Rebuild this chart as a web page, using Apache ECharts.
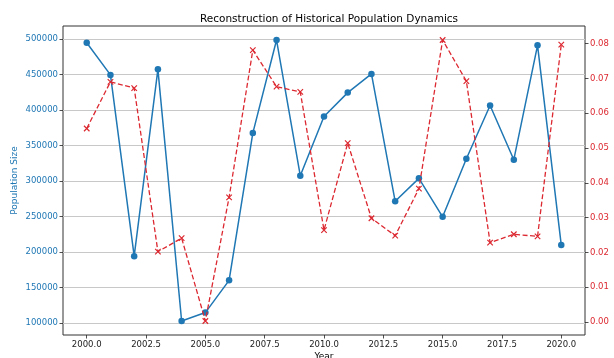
<!DOCTYPE html>
<html>
<head>
<meta charset="utf-8">
<script src="https://cdn.jsdelivr.net/npm/echarts@6/dist/echarts.min.js"></script>
<style>
  html, body { margin: 0; padding: 0; background: #fff; }
  #chart { width: 614px; height: 358px; }
</style>
</head>
<body>
<div id="chart"></div>
<script>
// Yearly population estimates and growth rates
const years = [2000, 2001, 2002, 2003, 2004, 2005, 2006, 2007, 2008, 2009, 2010,
               2011, 2012, 2013, 2014, 2015, 2016, 2017, 2018, 2019, 2020];
const population = [494800, 449500, 194450, 457400, 103200, 115000, 160350, 367650, 498600, 307700, 390950,
                    424600, 450900, 271650, 303930, 249750, 331600, 406400, 330200, 491150, 210000];
const growthRate = [0.0556, 0.0690, 0.0672, 0.0202, 0.0241, 0.0003, 0.0358, 0.0781, 0.0676, 0.0661, 0.0264,
                    0.0514, 0.0298, 0.0248, 0.0383, 0.0810, 0.0692, 0.0228, 0.0252, 0.0246, 0.0797];

// Tick positions for each axis
const yearTicks = [2000, 2002.5, 2005, 2007.5, 2010, 2012.5, 2015, 2017.5, 2020];
const populationTicks = [100000, 150000, 200000, 250000, 300000, 350000, 400000, 450000, 500000];
const rateTicks = [0, 0.01, 0.02, 0.03, 0.04, 0.05, 0.06, 0.07, 0.08];

const BLUE = '#1f77b4';
const RED = '#dc2830';
const FONT = 'DejaVu Sans';

// 5% padding around the data range on each axis
function padded(values) {
  const lo = Math.min(...values), hi = Math.max(...values);
  const pad = (hi - lo) * 0.05;
  return [lo - pad, hi + pad];
}
const xRange = padded(years);
const popRange = padded(population);
const rateRange = padded(growthRate);

const tickStyle = { show: true, inside: false, length: 3.5, lineStyle: { color: '#222', width: 0.8 } };

const chart = echarts.init(document.getElementById('chart'), null, { renderer: 'canvas' });
chart.setOption({
  animation: false,
  backgroundColor: '#fff',
  textStyle: { fontFamily: FONT },
  title: {
    text: 'Reconstruction of Historical Population Dynamics',
    left: 324, top: 9, textAlign: 'center',
    textStyle: { fontFamily: FONT, fontSize: 10.5, fontWeight: 'normal', color: '#000' }
  },
  grid: {
    left: 63, right: 29, top: 26, bottom: 23,
    outerBoundsMode: 'none', containLabel: false,
    show: true, borderColor: '#333', borderWidth: 1, backgroundColor: 'transparent'
  },
  xAxis: {
    type: 'value', min: xRange[0], max: xRange[1], position: 'bottom',
    name: 'Year', nameLocation: 'middle', nameGap: 17, nameMoveOverlap: false,
    nameTextStyle: { fontFamily: FONT, fontSize: 9, color: '#000' },
    axisLine: { show: false, onZero: false },
    axisTick: Object.assign({ customValues: yearTicks }, tickStyle),
    axisLabel: {
      customValues: yearTicks, margin: 5, fontFamily: FONT, fontSize: 8.5, color: '#222',
      formatter: v => v.toFixed(1)
    },
    splitLine: { show: false }
  },
  yAxis: [
    {
      type: 'value', position: 'left', min: popRange[0], max: popRange[1],
      name: 'Population Size', nameLocation: 'middle', nameRotate: 90, nameGap: 44, nameMoveOverlap: false,
      nameTextStyle: { fontFamily: FONT, fontSize: 9, color: BLUE },
      axisLine: { show: false, onZero: false },
      axisTick: Object.assign({ customValues: populationTicks }, tickStyle),
      axisLabel: {
        customValues: populationTicks, margin: 5, fontFamily: FONT, fontSize: 8.5, color: BLUE,
        formatter: v => String(Math.round(v))
      },
      splitLine: { show: true, lineStyle: { color: '#c8c8c8', width: 1 } }
    },
    {
      type: 'value', position: 'right', min: rateRange[0], max: rateRange[1],
      name: 'Growth Rate', nameLocation: 'middle', nameRotate: 90, nameGap: 30, nameMoveOverlap: false,
      nameTextStyle: { fontFamily: FONT, fontSize: 9, color: RED },
      axisLine: { show: false, onZero: false },
      axisTick: Object.assign({ customValues: rateTicks }, tickStyle),
      axisLabel: {
        customValues: rateTicks, margin: 5, fontFamily: FONT, fontSize: 8.5, color: RED,
        formatter: v => v.toFixed(2)
      },
      splitLine: { show: false }
    }
  ],
  series: [
    {
      name: 'Population Size', type: 'line', yAxisIndex: 0, z: 2,
      data: years.map((y, i) => [y, population[i]]),
      symbol: 'circle', symbolSize: 6.5,
      lineStyle: { color: BLUE, width: 1.5 },
      itemStyle: { color: BLUE, borderWidth: 0 }
    },
    {
      name: 'Growth Rate', type: 'line', yAxisIndex: 1, z: 3,
      data: years.map((y, i) => [y, growthRate[i]]),
      symbol: 'path://M0,0L10,10M10,0L0,10', symbolSize: 5.5,
      lineStyle: { color: RED, width: 1.3, type: [5, 2.5] },
      itemStyle: { color: 'rgba(0,0,0,0)', borderColor: RED, borderWidth: 1.2 }
    }
  ]
});
</script>
</body>
</html>
